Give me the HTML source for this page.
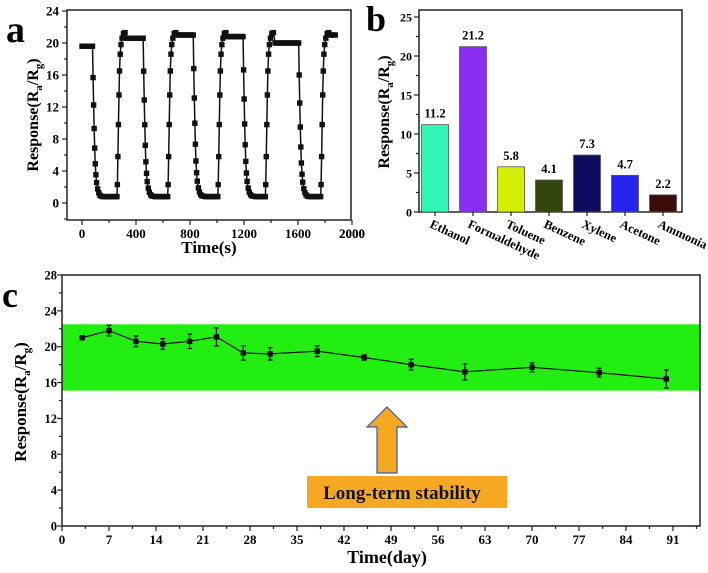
<!DOCTYPE html>
<html><head><meta charset="utf-8"><style>
html,body{margin:0;padding:0;background:#fff;overflow:hidden;}
svg{display:block;font-family:"Liberation Serif",serif;font-weight:bold;}
</style></head><body>
<svg id="fig" width="708" height="573" viewBox="0 0 708 573"></svg>
<script>
// ---------- Panel a data ----------
const aDropStarts=[78,453,824,1193,1605];
const aRiseStarts=[259,635,1006,1358,1768];
const aPlateau=[19.6,20.6,21.0,20.8,20.0,21.0];
const aDecayOffsets=[0,4,8,12,16,20,25,30,38,46,55,65,80];
const aDecayValues=[20,16,12.5,9.5,7,5,3.6,2.6,1.8,1.3,1.0,0.85,0.8];
const aRiseOffsets=[0,3,7,11,15,19,24,30,38,48,60];
const aRiseValues=[0.8,2.3,5.8,9.8,13.5,16.5,18.6,19.8,20.6,21.2,21.3];
const aEndTime=1880;
// ---------- Panel b data ----------
const bCategories=["Ethanol","Formaldehyde","Toluene","Benzene","Xylene","Acetone","Ammonia"];
const bValues=[11.2,21.2,5.8,4.1,7.3,4.7,2.2];
const bColors=["#33f5b8","#8a2ff2","#d4f000","#34460c","#0f0c60","#2424ee","#3c0c0c"];
// ---------- Panel c data ----------
const cDays=[3,7,11,15,19,23,27,31,38,45,52,60,70,80,90];
const cValues=[21.0,21.8,20.6,20.3,20.6,21.1,19.3,19.2,19.5,18.8,18.0,17.2,17.7,17.1,16.4];
const cErrors=[0.2,0.6,0.6,0.6,0.8,1.0,0.8,0.7,0.6,0.3,0.6,0.9,0.5,0.5,1.0];
const cBand=[15.1,22.5];
const cXTicks=[0,7,14,21,28,35,42,49,56,63,70,77,84,91];
const cYTicks=[0,4,8,12,16,20,24,28];

const NS="http://www.w3.org/2000/svg";
const svg=document.getElementById('fig');
function el(tag,attrs,parent){const e=document.createElementNS(NS,tag);for(const k in attrs)e.setAttribute(k,attrs[k]);(parent||svg).appendChild(e);return e;}
function txt(s,attrs,parent){const e=el('text',attrs,parent);e.textContent=s;return e;}
const RG='Response(R<tspan font-size="11" dy="4">a</tspan><tspan dy="-4">/R</tspan><tspan font-size="11" dy="4">g</tspan><tspan dy="-4">)</tspan>';

// ===== Panel a =====
const gA=el('g',{});


const aL=67,aR=351,aT=10,aB=220;
const ax=t=>82+(t-0)*(352-82)/2000;
const ay=v=>203-v*8;
el('rect',{x:aL,y:aT,width:aR-aL,height:aB-aT,fill:'none',stroke:'#222','stroke-width':1.5},gA);
for(let v=-2;v<=24;v+=2){const y=ay(v);if(y<aT-0.5||y>aB+0.5)continue;const major=v%4===0;
 el('line',{x1:aL,x2:aL-(major?5:3),y1:y,y2:y,stroke:'#222','stroke-width':1.2},gA);
 if(major){const t=txt(String(v),{x:aL-8,y:y+4.5,'text-anchor':'end','font-size':13},gA);}}
for(let v=0;v<=2000;v+=200){const x=ax(v);if(x>aR+1)continue;const major=v%400===0;
 el('line',{x1:x,x2:x,y1:aB,y2:aB+(major?5:3),stroke:'#222','stroke-width':1.2},gA);
 if(major){const t=txt(String(v),{x:x,y:aB+18,'text-anchor':'middle','font-size':13},gA);}}
txt('2000',{x:ax(2000),y:aB+18,'text-anchor':'middle','font-size':13},gA);
const aXt=txt('Time(s)',{x:209,y:253,'text-anchor':'middle','font-size':17},gA);

const aYt=el('text',{transform:'translate(38,115) rotate(-90)','text-anchor':'middle','font-size':16},gA);
aYt.innerHTML=RG;

const aLbl=txt('a',{x:6,y:42,'font-size':38},gA);

const aPts=[];
function plateau(t0,t1,v){for(let t=t0;t<t1;t+=12)aPts.push([t,v]);}
plateau(0,aDropStarts[0],aPlateau[0]);
for(let i=0;i<aDropStarts.length;i++){
 const d=aDropStarts[i];
 aDecayOffsets.forEach((o,j)=>aPts.push([d+o,aDecayValues[j]*aPlateau[i]/20]));
 const r=aRiseStarts[i];
 for(let t=d+aDecayOffsets[aDecayOffsets.length-1]+12;t<r;t+=12)aPts.push([t,0.8]);
 aRiseOffsets.forEach((o,j)=>aPts.push([r+o,aRiseValues[j]]));
 const next=i+1<aDropStarts.length?aDropStarts[i+1]:aEndTime;
 plateau(r+aRiseOffsets[aRiseOffsets.length-1]+12,next,aPlateau[i+1]);
}
el('polyline',{points:aPts.map(p=>ax(p[0])+','+ay(p[1])).join(' '),fill:'none',stroke:'#111','stroke-width':1.5},gA);
aPts.forEach(p=>{const m=el('rect',{x:ax(p[0])-2.7,y:ay(p[1])-2.7,width:5.4,height:5.4,fill:'#111'},gA);
 });

// ===== Panel b =====
const gB=el('g',{});


const bL=419,bR=682,bT=10,bB=212;
const by=v=>212-v*(212-17)/25;
const bx=i=>435+i*38;
el('rect',{x:bL,y:bT,width:bR-bL,height:bB-bT,fill:'none',stroke:'#222','stroke-width':1.5},gB);
for(let v=0;v<=25;v+=2.5){const y=by(v);const major=v%5===0;
 el('line',{x1:bL,x2:bL-(major?5:3),y1:y,y2:y,stroke:'#222','stroke-width':1.2},gB);
 if(major){const t=txt(String(v),{x:bL-7,y:y+4.5,'text-anchor':'end','font-size':12},gB);}}
bValues.forEach((v,i)=>{
 const b=el('rect',{x:bx(i)-13.5,y:by(v),width:27,height:bB-by(v),fill:bColors[i],stroke:'#555','stroke-width':0.8},gB);
 
 const t=txt(v.toFixed(1),{x:bx(i),y:by(v)-7,'text-anchor':'middle','font-size':12.5},gB);
 
 el('line',{x1:bx(i),x2:bx(i),y1:bB,y2:bB+4,stroke:'#222','stroke-width':1.2},gB);
 const c=txt(bCategories[i],{transform:`translate(${bx(i)-6},${bB+15}) rotate(25)`,'font-size':12.5},gB);
 
});
const bYt=el('text',{transform:'translate(389,112) rotate(-90)','text-anchor':'middle','font-size':16},gB);
bYt.innerHTML=RG;

const bLbl=txt('b',{x:366,y:31,'font-size':36},gB);


// ===== Panel c =====
const gC=el('g',{});


const cL=62,cR=700,cT=275,cB=526;
const cx=d=>62+d*(673-62)/91;
const cy=v=>526-v*(526-275)/28;
const band=el('rect',{x:cL,y:cy(cBand[1]),width:cR-cL,height:cy(cBand[0])-cy(cBand[1]),fill:'#22ee11'},gC);

el('rect',{x:cL,y:cT,width:cR-cL,height:cB-cT,fill:'none',stroke:'#222','stroke-width':1.5},gC);
for(let v=0;v<=28;v+=2){const y=cy(v);const major=v%4===0;
 el('line',{x1:cL,x2:cL-(major?5:3),y1:y,y2:y,stroke:'#222','stroke-width':1.2},gC);}
cYTicks.forEach(v=>{const t=txt(String(v),{x:cL-5,y:cy(v)+4.5,'text-anchor':'end','font-size':12.5},gC);});
for(let d=0;d<=94.5;d+=3.5){const x=cx(d);const major=(d%7)===0;
 el('line',{x1:x,x2:x,y1:cB,y2:cB+(major?5:3),stroke:'#222','stroke-width':1.2},gC);}
cXTicks.forEach(d=>{const t=txt(String(d),{x:cx(d),y:cB+18,'text-anchor':'middle','font-size':13},gC);});
const cXt=txt('Time(day)',{x:387,y:563,'text-anchor':'middle','font-size':18},gC);

const cYt=el('text',{transform:'translate(26,402) rotate(-90)','text-anchor':'middle','font-size':17},gC);
cYt.innerHTML=RG;

const cLbl=txt('c',{x:2,y:307,'font-size':36},gC);

el('polyline',{points:cDays.map((d,i)=>cx(d)+','+cy(cValues[i])).join(' '),fill:'none',stroke:'#111','stroke-width':1.2},gC);
cDays.forEach((d,i)=>{
 const x=cx(d),y1=cy(cValues[i]+cErrors[i]),y2=cy(cValues[i]-cErrors[i]);
 el('line',{x1:x,x2:x,y1:y1,y2:y2,stroke:'#111','stroke-width':1.2},gC);
 el('line',{x1:x-2.5,x2:x+2.5,y1:y1,y2:y1,stroke:'#111','stroke-width':1.2},gC);
 el('line',{x1:x-2.5,x2:x+2.5,y1:y2,y2:y2,stroke:'#111','stroke-width':1.2},gC);
 const m=el('rect',{x:x-2.7,y:cy(cValues[i])-2.7,width:5.4,height:5.4,fill:'#111'},gC);
 
});
const arrow=el('polygon',{points:'387,407 407,427 397,427 397,473 377,473 377,427 367,427',fill:'#f7a822',stroke:'#3b5aa8','stroke-width':1.2},gC);

const box=el('rect',{x:307,y:476,width:200,height:32,fill:'#f7a822'},gC);

const bt=txt('Long-term stability',{x:402,y:499,'text-anchor':'middle','font-size':19,fill:'#111'},gC);

</script>
</body></html>
